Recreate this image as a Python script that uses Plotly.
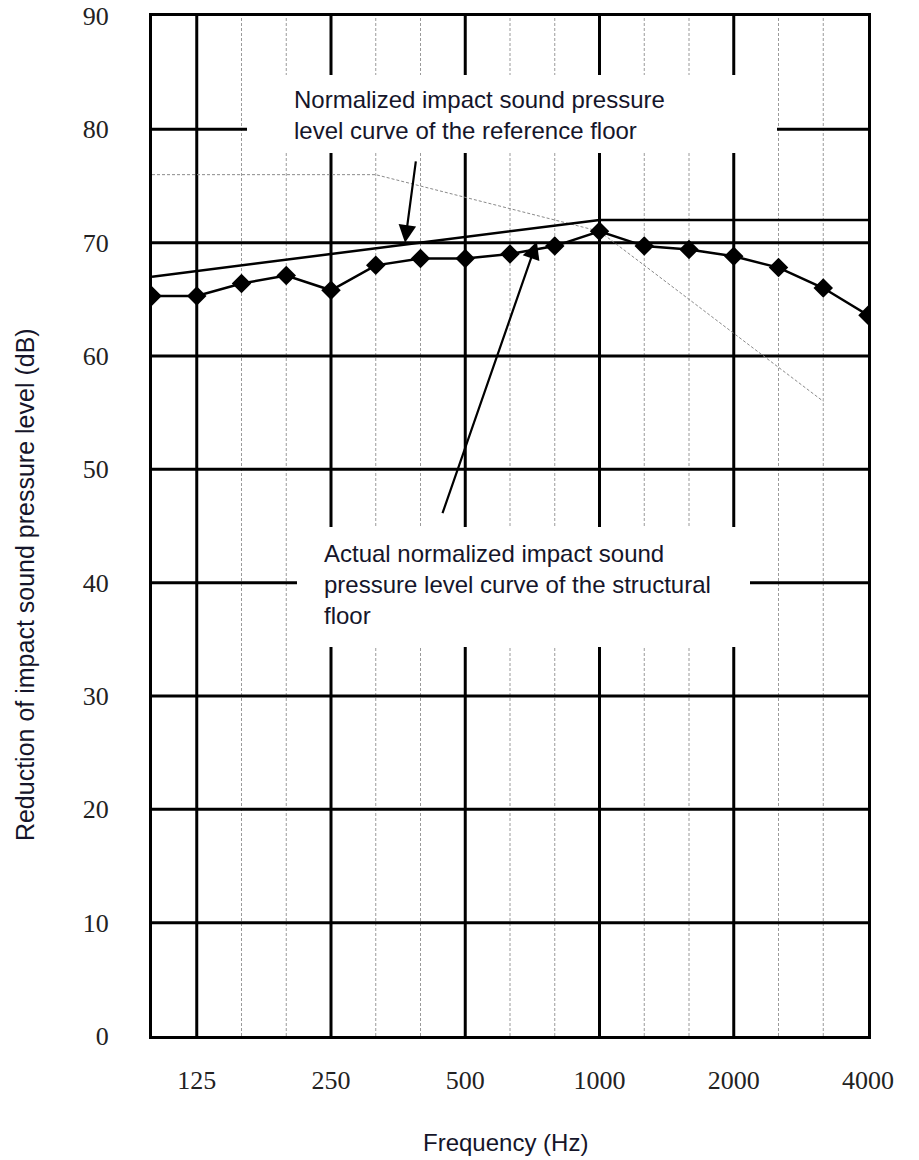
import plotly.graph_objects as go

# ---- data ----
freqs = ["100", "125", "160", "200", "250", "315", "400", "500", "630", "800",
         "1000", "1250", "1600", "2000", "2500", "3150", "4000"]
measured = [65.3, 65.3, 66.4, 67.1, 65.8, 68.0, 68.6, 68.6, 69.0, 69.7,
            71.0, 69.7, 69.4, 68.8, 67.8, 66.0, 63.6]
ref_freqs = ["100", "1000", "4000"]
ref_vals = [67, 72, 72]
std_freqs = ["100", "315", "1000", "3150"]
std_vals = [76, 76, 71, 56]
octave_ticks = ["125", "250", "500", "1000", "2000", "4000"]
thick_vlines = ["125", "250", "500", "1000", "2000"]
y_ticks = [0, 10, 20, 30, 40, 50, 60, 70, 80, 90]
h_lines = [10, 20, 30, 40, 50, 60, 70, 80]

text_ref = "Normalized impact sound pressure<br>level curve of the reference floor"
text_act = ("Actual normalized impact sound<br>pressure level curve of the structural<br>floor")

fig = go.Figure()

# standard (thin gray) curve
fig.add_trace(go.Scatter(x=std_freqs, y=std_vals, mode="lines",
                         line=dict(color="#8a8a8a", width=1, dash="3px,2px"),
                         showlegend=False, hoverinfo="skip"))
# reference curve
fig.add_trace(go.Scatter(x=ref_freqs, y=ref_vals, mode="lines",
                         line=dict(color="black", width=2.5),
                         showlegend=False))
# measured curve
fig.add_trace(go.Scatter(x=freqs, y=measured, mode="lines+markers",
                         line=dict(color="black", width=2.5),
                         marker=dict(symbol="diamond", size=15, color="black"),
                         showlegend=False))

shapes = []
# vertical grid lines
for f in freqs[1:-1]:
    i = freqs.index(f)
    if f in thick_vlines:
        shapes.append(dict(type="line", xref="x", yref="paper", x0=i, x1=i, y0=0, y1=1,
                           line=dict(color="black", width=3), layer="below"))
    else:
        shapes.append(dict(type="line", xref="x", yref="paper", x0=i, x1=i, y0=0, y1=1,
                           line=dict(color="#9a9a9a", width=1, dash="3px,2px"), layer="below"))
# horizontal grid lines
for v in h_lines:
    shapes.append(dict(type="line", xref="paper", yref="y", x0=0, x1=1, y0=v, y1=v,
                       line=dict(color="black", width=3), layer="below"))
# white boxes behind texts
shapes.append(dict(type="rect", xref="paper", yref="paper", x0=0.1327, x1=0.8729,
                   y0=0.8657, y1=0.9422, fillcolor="white", line=dict(width=0), layer="below"))
shapes.append(dict(type="rect", xref="paper", yref="paper", x0=0.2025, x1=0.8352,
                   y0=0.3814, y1=0.4990, fillcolor="white", line=dict(width=0), layer="below"))

annotations = [
    dict(text=text_ref, xref="paper", yref="paper", x=0.1955, y=0.903,
         xanchor="left", yanchor="middle", align="left", showarrow=False,
         font=dict(family="Liberation Sans, Arial", size=24, color="#15152a")),
    dict(text=text_act, xref="paper", yref="paper", x=0.2374, y=0.4422,
         xanchor="left", yanchor="middle", align="left", showarrow=False,
         font=dict(family="Liberation Sans, Arial", size=24, color="#15152a")),
    # arrows
    dict(text="", x=5.654, y=70.0, ax=5.90, ay=77.3, xref="x", yref="y",
         axref="x", ayref="y", showarrow=True, arrowhead=2, arrowsize=1.6,
         arrowwidth=2.2, arrowcolor="black", standoff=0),
    dict(text="", x=8.60, y=70.1, ax=6.48, ay=46.0, xref="x", yref="y",
         axref="x", ayref="y", showarrow=True, arrowhead=2, arrowsize=1.6,
         arrowwidth=2.2, arrowcolor="black", standoff=0),
    # axis titles
    dict(text="Reduction of impact sound pressure level (dB)", xref="paper", yref="paper",
         x=-0.1774, y=0.443, xanchor="center", yanchor="middle", textangle=-90,
         showarrow=False, font=dict(family="Liberation Sans, Arial", size=25, color="#15152a")),
    dict(text="Frequency (Hz)", xref="paper", yref="paper", x=0.494, y=-0.104,
         xanchor="center", yanchor="middle", showarrow=False,
         font=dict(family="Liberation Sans, Arial", size=24, color="#15152a")),
]

fig.update_layout(
    width=919, height=1160,
    margin=dict(l=152, r=51, t=16, b=124, autoexpand=False),
    paper_bgcolor="white", plot_bgcolor="white",
    shapes=shapes, annotations=annotations,
    showlegend=False,
)
fig.update_xaxes(type="category", categoryorder="array", categoryarray=freqs,
                 range=[0, len(freqs) - 1], tickmode="array", tickvals=octave_ticks,
                 ticktext=octave_ticks, showgrid=False, zeroline=False,
                 showline=True, mirror=True, linecolor="black", linewidth=3,
                 ticks="", ticklabelstandoff=19, automargin=False,
                 tickfont=dict(family="Liberation Serif, Times New Roman", size=26, color="#222"))
fig.update_yaxes(range=[0, 90], tickmode="array", tickvals=y_ticks,
                 showgrid=False, zeroline=False,
                 showline=True, mirror=True, linecolor="black", linewidth=3,
                 ticks="", ticklabelstandoff=35, automargin=False,
                 tickfont=dict(family="Liberation Serif, Times New Roman", size=26, color="#222"))

# remove the browser's default 8px body margin so the figure fills the window exactly
fig.write_html("out.html", config={"displayModeBar": False},
               post_script="document.body.style.margin='0px';document.body.style.overflow='hidden';")
